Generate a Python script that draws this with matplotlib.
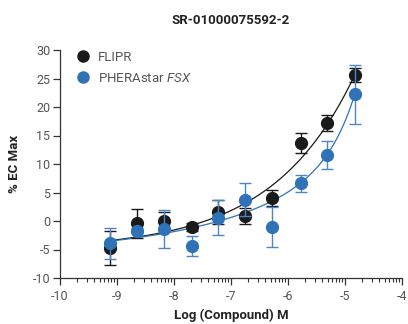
import numpy as np
import matplotlib
matplotlib.use("Agg")
import matplotlib.pyplot as plt
from matplotlib.lines import Line2D

plt.rcParams['font.family'] = ['Roboto', 'DejaVu Sans']
plt.rcParams['axes.unicode_minus'] = False
plt.rcParams['mathtext.fontset'] = 'custom'
plt.rcParams['mathtext.it'] = 'Roboto:italic'
plt.rcParams['mathtext.rm'] = 'Roboto'

title = 'SR-01000075592-2'

# log concentration of each dose
log_conc = [-9.12, -8.65, -8.18, -7.69, -7.22, -6.75, -6.28, -5.78, -5.32, -4.83]

flipr_mean = [-4.7, -0.4, 0.0, -1.0, 1.6, 0.8, 4.0, 13.7, 17.2, 25.6]
flipr_err = [3.0, 2.5, 1.6, 0.7, 2.1, 1.4, 1.4, 1.8, 1.4, 1.3]

phera_mean = [-3.9, -1.7, -1.4, -4.4, 0.6, 3.7, -1.1, 6.6, 11.6, 22.2]
phera_err = [2.7, 0.4, 3.4, 1.8, 3.0, 2.9, 3.5, 1.5, 2.5, 5.1]

# fitted curve parameters: bottom, amp1, slope1, amp2, slope2 (relative to last dose)
flipr_fit = [-5.0, 30.6, 0.30, 0.0, 1.0]
phera_fit = [-6.0, 17.8, 0.20, 10.4, 1.0]

black = '#1a1a1a'
blue = '#2f72b8'
blue_err = '#4a87c7'
grey = '#555555'


def fit_curve(x, p):
    b, a1, h1, a2, h2 = p
    d = x - log_conc[-1]
    return b + a1 * 10 ** (h1 * d) + a2 * 10 ** (h2 * d)


fig = plt.figure(figsize=(4.08, 3.24), dpi=100)
ax = fig.add_axes([60 / 408, 46 / 324, 342 / 408, 228 / 324])

xs = np.linspace(log_conc[0], log_conc[-1], 200)
ax.plot(xs, fit_curve(xs, flipr_fit), color=black, lw=0.9, zorder=2)
ax.plot(xs, fit_curve(xs, phera_fit), color=blue, lw=0.9, zorder=2)

ax.errorbar(log_conc, flipr_mean, yerr=flipr_err, fmt='o', color=black, ms=8.5,
            ecolor=black, elinewidth=1.0, capsize=4.2, capthick=1.0, zorder=3)
ax.errorbar(log_conc, phera_mean, yerr=phera_err, fmt='o', color=blue, ms=8.5,
            ecolor=blue_err, elinewidth=1.0, capsize=4.2, capthick=1.0, zorder=4)

ax.set_xlim(-10, -4)
ax.set_ylim(-10, 30)
ax.set_xticks(range(-10, -3))
ax.set_yticks(range(-10, 31, 5))
minor = [d + np.log10(k) for d in range(-10, -4) for k in range(2, 10)]
ax.set_xticks(minor, minor=True)

for s in ['top', 'right']:
    ax.spines[s].set_visible(False)
for s in ['left', 'bottom']:
    ax.spines[s].set_color('#333333')
    ax.spines[s].set_linewidth(0.9)

ax.tick_params(axis='both', which='major', length=5, width=0.9, color='#333333',
               labelsize=9, labelcolor=grey)
ax.tick_params(axis='x', which='major', pad=3.5)
ax.tick_params(axis='y', which='major', pad=2)
ax.tick_params(axis='x', which='minor', length=3, width=0.8, color='#333333')

ax.set_title(title, fontsize=9.5, fontweight='bold', color='#222222', pad=19)
ax.set_xlabel('Log (Compound) M', fontsize=9.5, fontweight='bold', color='#222222',
              labelpad=4)
ax.set_ylabel('% EC Max', fontsize=9.5, fontweight='bold', color='#222222')
ax.yaxis.set_label_coords(-0.114, 0.5)

handles = [Line2D([], [], ls='', marker='o', ms=8, color=black),
           Line2D([], [], ls='', marker='o', ms=8, color=blue)]
labels = ['FLIPR', 'PHERAstar $\\it{FSX}$']
leg = ax.legend(handles, labels, loc='upper left', frameon=False, fontsize=9.5,
                handlelength=1.0, handletextpad=0.6, labelspacing=0.6,
                borderaxespad=0.2, bbox_to_anchor=(0.025, 1.03))
for t in leg.get_texts():
    t.set_color(grey)

fig.savefig('out.png', dpi=100)
